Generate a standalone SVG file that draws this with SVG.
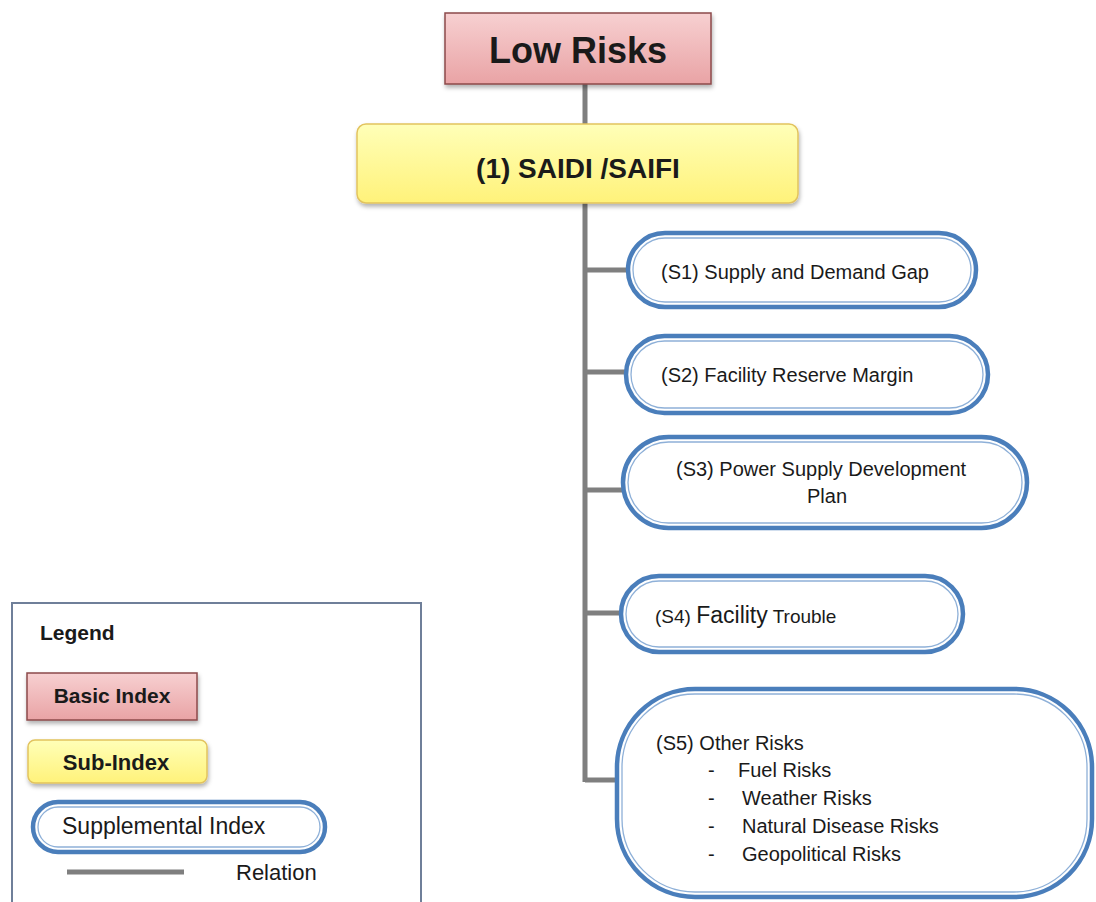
<svg xmlns="http://www.w3.org/2000/svg" width="1096" height="902" viewBox="0 0 1096 902">
<defs>
<linearGradient id="gRed" x1="0" y1="0" x2="0" y2="1">
<stop offset="0" stop-color="#f7d0d1"/><stop offset="1" stop-color="#e9a3a5"/>
</linearGradient>
<linearGradient id="gYel" x1="0" y1="0" x2="0" y2="1">
<stop offset="0" stop-color="#ffffb8"/><stop offset="1" stop-color="#fff27a"/>
</linearGradient>
<filter id="sh" x="-10%" y="-20%" width="120%" height="150%">
<feDropShadow dx="1" dy="3" stdDeviation="2" flood-color="#000" flood-opacity="0.3"/>
</filter>
<style>
text{font-family:"Liberation Sans",Arial,sans-serif;fill:#1a1a1a}
.b{font-weight:bold}
.rel{stroke:#7f7f7f;stroke-width:5;fill:none}
.red{fill:url(#gRed);stroke:#8c4a4b;stroke-width:1.5}
.yel{fill:url(#gYel);stroke:#e2c35e;stroke-width:1.5}
.so{fill:#fff;stroke:#4a7ebb;stroke-width:4.5}
.si{fill:none;stroke:#8eb0d8;stroke-width:1.3}
.s{font-size:20px}
</style>
</defs>
<rect width="1096" height="902" fill="#fff"/>

<g id="connectors">
<line class="rel" x1="585" y1="84" x2="585" y2="125"/>
<line class="rel" x1="585" y1="202" x2="585" y2="782"/>
<line class="rel" x1="585" y1="270" x2="628" y2="270"/>
<line class="rel" x1="585" y1="372" x2="626" y2="372"/>
<line class="rel" x1="585" y1="490" x2="623" y2="490"/>
<line class="rel" x1="585" y1="613" x2="621" y2="613"/>
<line class="rel" x1="585" y1="780" x2="617" y2="780"/>
</g>

<g id="low-risks">
<rect class="red" x="445" y="13" width="266" height="71" filter="url(#sh)"/>
<text class="b" x="578" y="63" font-size="36" text-anchor="middle">Low Risks</text>
</g>

<g id="saidi">
<rect class="yel" x="357" y="124" width="441" height="79" rx="9" filter="url(#sh)"/>
<text class="b" x="578" y="178" font-size="28" text-anchor="middle">(1) SAIDI /SAIFI</text>
</g>

<g id="s1">
<rect class="so" x="628" y="233" width="348" height="74" rx="37"/>
<rect class="si" x="633" y="238" width="338" height="64" rx="32"/>
<text class="s" x="661" y="279">(S1) Supply and Demand Gap</text>
</g>

<g id="s2">
<rect class="so" x="626" y="336" width="362" height="77" rx="38.5"/>
<rect class="si" x="631" y="341" width="352" height="67" rx="33.5"/>
<text class="s" x="661" y="382">(S2) Facility Reserve Margin</text>
</g>

<g id="s3">
<rect class="so" x="623" y="437" width="404" height="91" rx="45.5"/>
<rect class="si" x="628" y="442" width="394" height="81" rx="40.5"/>
<text class="s" x="676" y="476">(S3) Power Supply Development</text>
<text class="s" x="827" y="503" text-anchor="middle">Plan</text>
</g>

<g id="s4">
<rect class="so" x="621" y="576" width="342" height="76" rx="38"/>
<rect class="si" x="626" y="581" width="332" height="66" rx="33"/>
<text x="655" y="623"><tspan font-size="19">(S4) </tspan><tspan font-size="23">Facility</tspan><tspan font-size="19"> Trouble</tspan></text>
</g>

<g id="s5">
<rect class="so" x="617" y="689" width="475" height="208" rx="78"/>
<rect class="si" x="622" y="694" width="465" height="198" rx="73"/>
<text class="s" x="656" y="750">(S5) Other Risks</text>
<text class="s" x="708" y="777">-</text><text class="s" x="738" y="777">Fuel Risks</text>
<text class="s" x="708" y="805">-</text><text class="s" x="742" y="805">Weather Risks</text>
<text class="s" x="708" y="833">-</text><text class="s" x="742" y="833">Natural Disease Risks</text>
<text class="s" x="708" y="861">-</text><text class="s" x="742" y="861">Geopolitical Risks</text>
</g>

<g id="legend">
<rect x="12" y="603" width="409" height="305" fill="#fff" stroke="#6f7f99" stroke-width="2"/>
<text class="b" x="40" y="640" font-size="21">Legend</text>
<rect class="red" x="27" y="673" width="170" height="47" filter="url(#sh)"/>
<text class="b" x="112" y="703" font-size="21" text-anchor="middle">Basic Index</text>
<rect class="yel" x="28" y="740" width="179" height="43" rx="7" filter="url(#sh)"/>
<text class="b" x="116" y="770" font-size="22" text-anchor="middle">Sub-Index</text>
<rect class="so" x="33" y="802" width="292" height="50" rx="25"/>
<rect class="si" x="38" y="807" width="282" height="40" rx="20"/>
<text x="62" y="834" font-size="23">Supplemental Index</text>
<line class="rel" x1="67" y1="872" x2="184" y2="872"/>
<text x="236" y="880" font-size="22">Relation</text>
</g>
</svg>
